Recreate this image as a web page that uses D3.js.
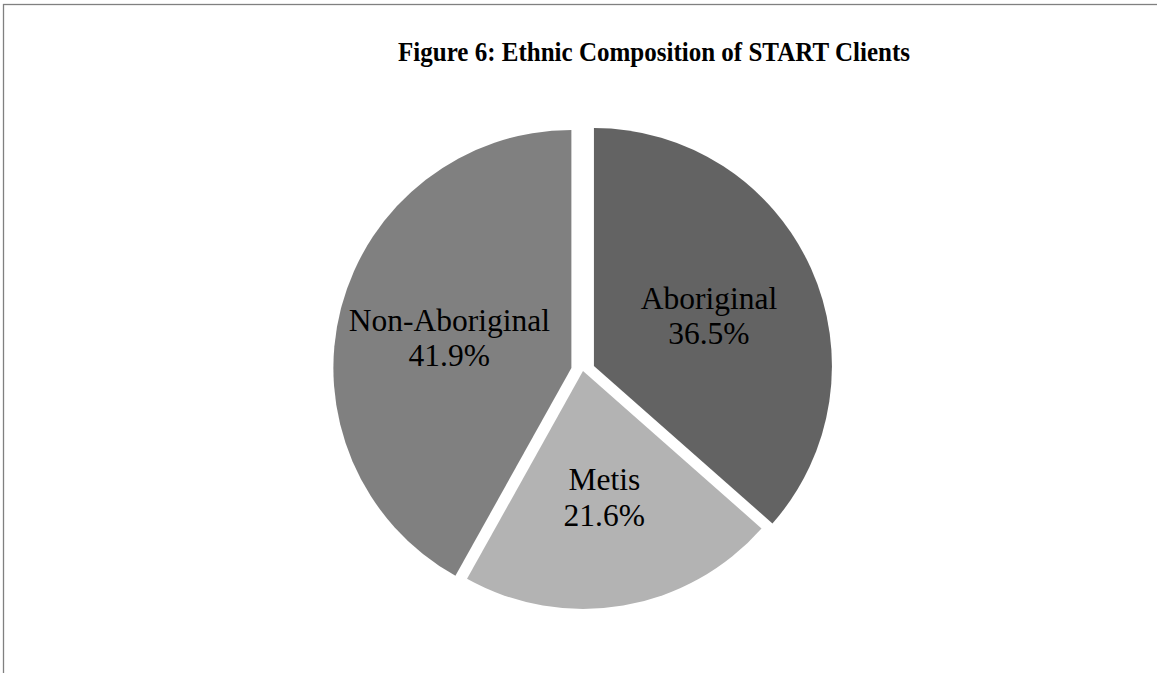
<!DOCTYPE html>
<html>
<head>
<meta charset="utf-8">
<script src="https://cdn.jsdelivr.net/npm/d3@7"></script>
<style>
  html, body { margin: 0; padding: 0; background: #fff; }
  svg { display: block; }
</style>
</head>
<body>
<svg id="chart" width="1157" height="673"></svg>
<script>
// Ethnic composition of START clients (percent of clients)
const categories = ["Aboriginal", "Metis", "Non-Aboriginal"];
const shares = [36.5, 21.6, 41.9];
const titleText = "Figure 6: Ethnic Composition of START Clients";

const W = 1157, H = 673;
const svg = d3.select("#chart");

// chart frame (left and top edges visible)
svg.append("rect")
  .attr("x", 3.5).attr("y", 4.5)
  .attr("width", W + 100).attr("height", H + 100)
  .attr("fill", "none")
  .attr("stroke", "#808080")
  .attr("stroke-width", 1.3);

// title, set in a slightly condensed bold serif
svg.append("text")
  .attr("transform", "translate(654,61) scale(0.9,1)")
  .attr("text-anchor", "middle")
  .attr("font-family", "'Liberation Serif', 'Times New Roman', serif")
  .attr("font-weight", "bold")
  .attr("font-size", 27.8)
  .attr("fill", "#000")
  .text(titleText);

const cx = 583, cy = 371, radius = 238;
const pullOut = { "Aboriginal": 12, "Metis": 0, "Non-Aboriginal": 12 };

const color = d3.scaleOrdinal()
  .domain(categories)
  .range(["#636363", "#b3b3b3", "#808080"]);

const rows = categories.map((c, i) => ({ name: c, value: shares[i] }));
const pie = d3.pie().sort(null).value(d => d.value).startAngle(0).endAngle(2 * Math.PI);
const arcs = pie(rows);

const arc = d3.arc().innerRadius(0).outerRadius(radius);
const labelR = radius * 0.53;
const labelArc = d3.arc().innerRadius(labelR).outerRadius(labelR);

const g = svg.append("g").attr("transform", `translate(${cx},${cy})`);

const slice = g.selectAll("g.slice")
  .data(arcs)
  .enter().append("g")
  .attr("class", "slice")
  .attr("transform", d => {
    const a = (d.startAngle + d.endAngle) / 2;
    const k = pullOut[d.data.name];
    return `translate(${k * Math.sin(a)},${-k * Math.cos(a)})`;
  });

slice.append("path")
  .attr("d", arc)
  .attr("fill", d => color(d.data.name));

const fmt = d3.format(".1f");
const lab = slice.append("text")
  .attr("transform", d => `translate(${labelArc.centroid(d)})`)
  .attr("text-anchor", "middle")
  .attr("font-family", "'Liberation Serif', 'Times New Roman', serif")
  .attr("font-size", 31.5)
  .attr("fill", "#000");

lab.append("tspan")
  .attr("x", 0).attr("dy", "-0.17em")
  .text(d => d.data.name);
lab.append("tspan")
  .attr("x", 0).attr("dy", "1.13em")
  .text(d => fmt(d.data.value) + "%");
</script>
</body>
</html>
